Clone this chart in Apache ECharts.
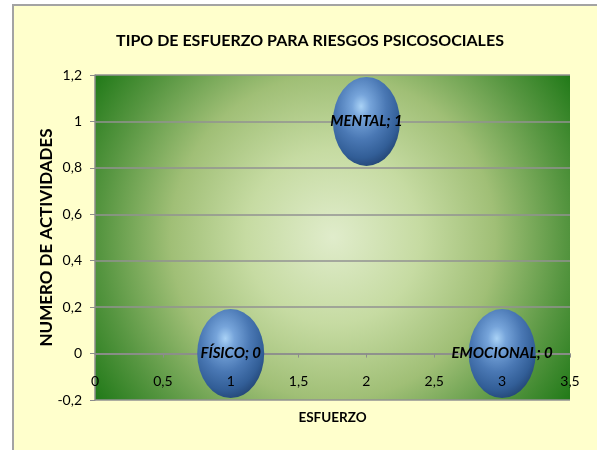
<!DOCTYPE html>
<html>
<head>
<meta charset="utf-8">
<script src="https://cdn.jsdelivr.net/npm/echarts@6/dist/echarts.min.js"></script>
<style>
html,body{margin:0;padding:0;background:#ffffff;}
#chart{width:597px;height:450px;}
</style>
</head>
<body>
<div id="chart"></div>
<script>
// ---- data ----
const categories = ['FÍSICO', 'MENTAL', 'EMOCIONAL'];
const xValues = [1, 2, 3];
const yValues = [0, 1, 0];
const titleText = 'TIPO DE ESFUERZO PARA RIESGOS PSICOSOCIALES';
const xAxisName = 'ESFUERZO';
const yAxisName = 'NUMERO DE ACTIVIDADES';

const FONT = 'Lato, "Noto Sans", sans-serif';
const comma = v => String(Math.round(v * 10) / 10).replace('.', ',');

const GRID_H = 450 - 75 - 50;          // plot height in px
const Y_MIN = -0.2, Y_MAX = 1.2;
const X_MIN = 0, X_MAX = 3.5;
// the x axis crosses the y axis at 0 (as in the original spreadsheet chart)
const X_AXIS_SHIFT = -GRID_H * (0 - Y_MIN) / (Y_MAX - Y_MIN);

const chart = echarts.init(document.getElementById('chart'));
chart.setOption({
  animation: false,
  textStyle: { fontFamily: FONT },
  graphic: [{
    type: 'rect', z: -10, silent: true,
    shape: { x: 13, y: 5, width: 590, height: 460 },
    style: { fill: '#FFFFCC', stroke: '#A3A3A3', lineWidth: 2 }
  }],
  title: {
    text: titleText, left: 305, top: 28, textAlign: 'center',
    textStyle: { fontFamily: FONT, fontSize: 16, fontWeight: 'bold', color: '#000' }
  },
  grid: {
    left: 95, top: 75, right: 27, bottom: 50, show: true, borderWidth: 0,
    outerBoundsMode: 'none', containLabel: false,
    backgroundColor: new echarts.graphic.RadialGradient(333, 237, 290, [
      { offset: 0, color: '#E0ECCB' },
      { offset: 0.3, color: '#C6DBA2' },
      { offset: 0.56, color: '#A0BF76' },
      { offset: 0.8, color: '#579641' },
      { offset: 1, color: '#1E7816' }
    ], true)
  },
  xAxis: [{
    type: 'value', min: X_MIN, max: X_MAX, interval: 0.5,
    offset: X_AXIS_SHIFT, z: 0,
    name: xAxisName, nameLocation: 'middle', nameGap: 57,
    nameTextStyle: { fontFamily: FONT, fontSize: 13.5, fontWeight: 'bold', color: '#000' },
    axisLine: { onZero: false, lineStyle: { color: '#8C8C8C', width: 1.5 } },
    axisTick: { show: true, length: 4, lineStyle: { color: '#8C8C8C' } },
    axisLabel: { show: false },
    splitLine: { show: false }
  }, {
    // label layer drawn above the bubbles, as in the original
    type: 'value', min: X_MIN, max: X_MAX, interval: 0.5, position: 'bottom',
    offset: X_AXIS_SHIFT, z: 10,
    axisLine: { show: false }, axisTick: { show: false }, splitLine: { show: false },
    axisLabel: { formatter: comma, fontSize: 14, color: '#000', margin: 21 }
  }],
  yAxis: {
    type: 'value', min: Y_MIN, max: Y_MAX, interval: 0.2,
    name: yAxisName, nameLocation: 'middle', nameGap: 40, nameRotate: 90,
    nameMoveOverlap: false,
    nameTextStyle: { fontFamily: FONT, fontSize: 17, fontWeight: 'bold', color: '#000' },
    axisLine: { show: true, onZero: false, lineStyle: { color: '#8C8C8C', width: 1.5 } },
    axisTick: { show: true, length: 5, lineStyle: { color: '#8C8C8C' } },
    axisLabel: { formatter: comma, fontSize: 14, color: '#000', margin: 13 },
    splitLine: { show: true, lineStyle: { color: '#929292', width: 1.5 } }
  },
  series: [{
    type: 'scatter',
    xAxisIndex: 0,
    symbol: 'circle',
    symbolSize: [67, 89],
    clip: false,
    data: categories.map((c, i) => ({ name: c, value: [xValues[i], yValues[i]] })),
    itemStyle: {
      color: new echarts.graphic.RadialGradient(0.42, 0.33, 0.68, [
        { offset: 0, color: '#A9D2F6' },
        { offset: 0.2, color: '#76A4DA' },
        { offset: 0.55, color: '#4A78B4' },
        { offset: 0.85, color: '#325E97' },
        { offset: 1, color: '#264A7B' }
      ]),
      opacity: 1
    },
    label: {
      show: true, position: 'inside',
      formatter: p => p.name + '; ' + p.value[1],
      fontFamily: FONT, fontSize: 15, fontWeight: 'bold', fontStyle: 'italic', color: '#000'
    }
  }]
});
</script>
</body>
</html>
